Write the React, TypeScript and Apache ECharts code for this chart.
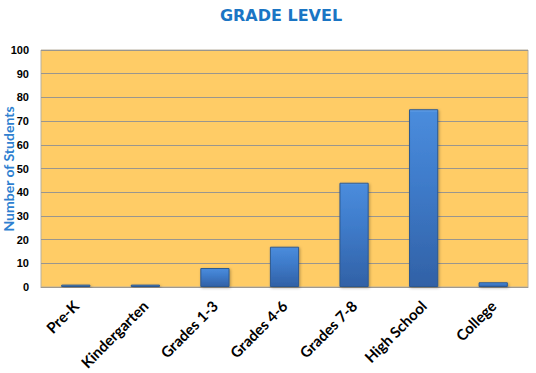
import React, { useEffect, useRef } from "react";
import * as echarts from "echarts";

const categories = ["Pre-K", "Kindergarten", "Grades 1-3", "Grades 4-6", "Grades 7-8", "High School", "College"];
const students = [1, 1, 8, 17, 44, 75, 2];
const yMin = 0;
const yMax = 100;
const yStep = 10;

export default function App() {
  const ref = useRef<HTMLDivElement>(null);
  useEffect(() => {
    if (!ref.current) return;
    const chart = echarts.init(ref.current, null, { renderer: "svg" });
    chart.setOption({
      animation: false,
      backgroundColor: "#ffffff",
      title: {
        text: "GRADE LEVEL",
        left: 276,
        top: 2,
        textAlign: "center",
        textStyle: { fontFamily: "DejaVu Sans", fontWeight: "bold", fontSize: 16, color: "#1a75c4" },
      },
      graphic: [
        {
          type: "text",
          x: 8,
          y: 169,
          rotation: Math.PI / 2,
          style: {
            text: "Number of Students",
            fontFamily: "Lato",
            fontWeight: "bold",
            fontSize: 14,
            fill: "#2e7fd0",
            align: "center",
            verticalAlign: "middle",
          },
        },
      ],
      grid: {
        left: 41, right: 8, top: 50, bottom: 86,
        outerBoundsMode: "none", containLabel: false,
        show: true, backgroundColor: "#ffcc66", borderColor: "#b8b0a0", borderWidth: 1,
      },
      xAxis: {
        type: "category",
        data: categories,
        axisLine: { show: true, lineStyle: { color: "#a09a90" } },
        axisTick: { show: false },
        axisLabel: {
          rotate: 45,
          margin: 16,
          interval: 0,
          fontFamily: "Lato",
          fontWeight: "bold",
          fontSize: 15,
          color: "#000000",
        },
      },
      yAxis: {
        type: "value",
        min: yMin,
        max: yMax,
        interval: yStep,
        axisLine: { show: false },
        axisTick: { show: false },
        axisLabel: { margin: 12, fontFamily: "Liberation Sans", fontWeight: "bold", fontSize: 11, color: "#000000" },
        splitLine: { lineStyle: { color: "#9a968e", width: 1 } },
      },
      series: [
        {
          type: "bar",
          data: students,
          barWidth: "42%",
          itemStyle: {
            color: new echarts.graphic.LinearGradient(0, 0, 0, 1, [
              { offset: 0, color: "#6aa6ec" },
              { offset: 0.015, color: "#4a8cdc" },
              { offset: 0.4, color: "#3f7ccb" },
              { offset: 1, color: "#3161a6" },
            ]),
            borderColor: "#2c5890",
            borderWidth: 1,
            shadowColor: "rgba(0,0,0,0.3)",
            shadowBlur: 3,
            shadowOffsetX: 1,
            shadowOffsetY: 1,
          },
        },
      ],
    });
    return () => chart.dispose();
  }, []);
  return <div ref={ref} style={{ position: "fixed", left: 0, top: 0, width: 536, height: 373 }} />;
}
